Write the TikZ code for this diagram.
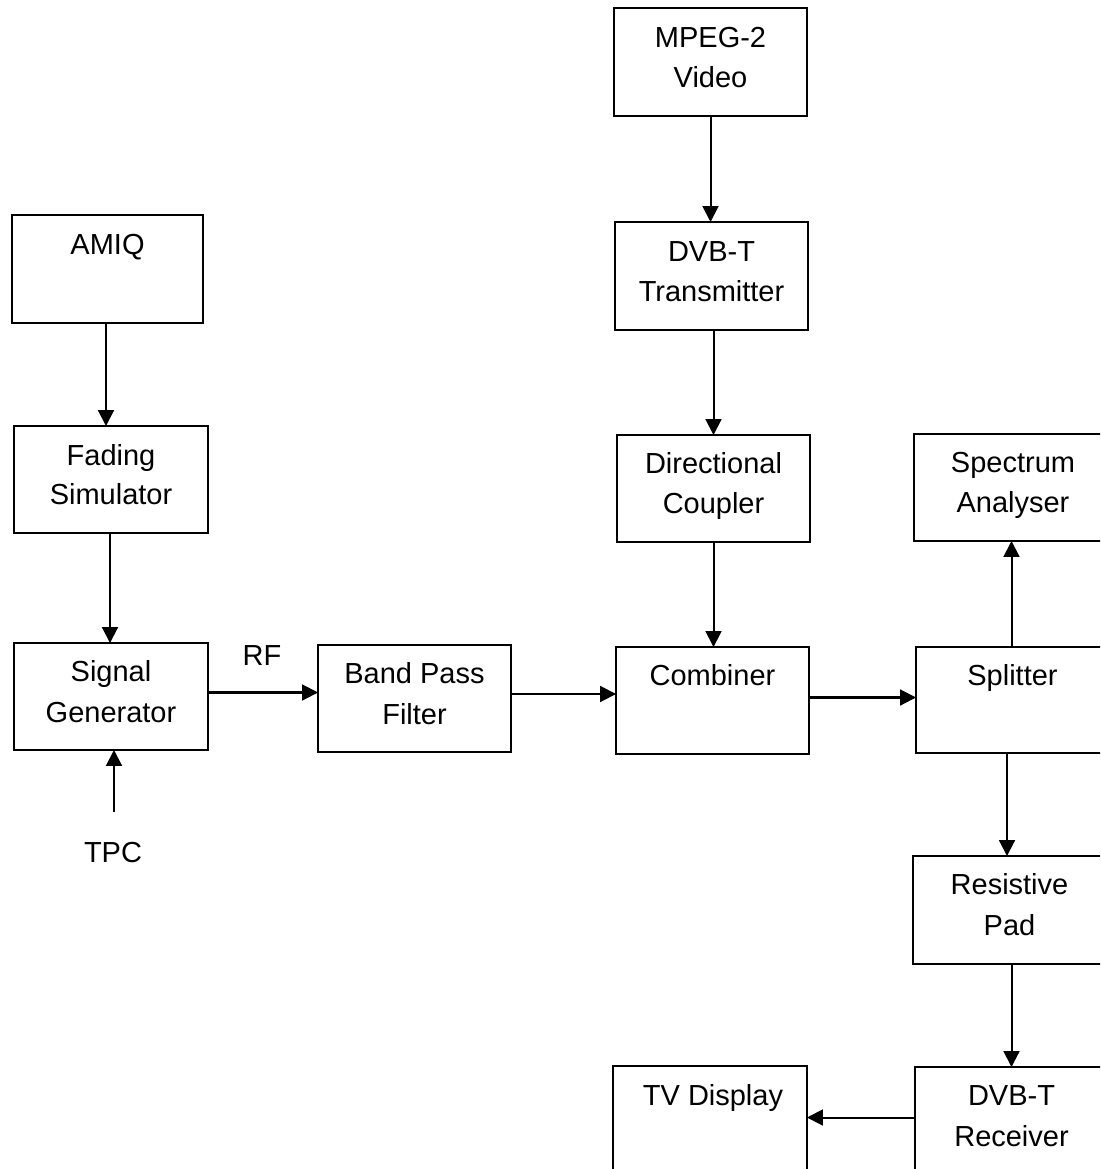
\documentclass[tikz,border=0pt]{standalone}
\usepackage{fontspec}
\setmainfont{Liberation Sans}
\usetikzlibrary{arrows.meta}
\begin{document}
\begin{tikzpicture}[x=0.02cm,y=-0.02cm,
  box/.style={draw, line width=1.15pt, rectangle, inner sep=0pt, outer sep=0pt},
  lbl/.style={anchor=base, inner sep=0pt, font=\fontsize{16.5}{20}\selectfont},
  conn/.style={line width=1.15pt, -{Triangle[length=9pt,width=9pt]}}]
\useasboundingbox (0,0) rectangle (1100,1169);
\clip (0,0) rectangle (1100,1169);

% boxes
\node[box, minimum width=3.86cm, minimum height=2.16cm] (mpeg) at (710.5,62) {};
\node[box, minimum width=3.86cm, minimum height=2.16cm] (dvbt) at (711.5,276) {};
\node[box, minimum width=3.82cm, minimum height=2.16cm] (amiq) at (107.5,269) {};
\node[box, minimum width=3.88cm, minimum height=2.14cm] (fading) at (111,479.5) {};
\node[box, minimum width=3.86cm, minimum height=2.14cm] (dircoup) at (713.5,488.5) {};
\node[box, minimum width=3.86cm, minimum height=2.14cm] (spec) at (1010.5,487.5) {};
\node[box, minimum width=3.88cm, minimum height=2.14cm] (siggen) at (111,696.5) {};
\node[box, minimum width=3.86cm, minimum height=2.14cm] (bpf) at (414.5,698.5) {};
\node[box, minimum width=3.86cm, minimum height=2.14cm] (comb) at (712.5,700.5) {};
\node[box, minimum width=3.86cm, minimum height=2.12cm] (split) at (1012.5,700) {};
\node[box, minimum width=3.86cm, minimum height=2.16cm] (resist) at (1009.5,910) {};
\node[box, minimum width=3.88cm, minimum height=2.14cm] (tv) at (710,1119.5) {};
\node[box, minimum width=3.86cm, minimum height=2.14cm] (recv) at (1011.5,1120.5) {};

% labels
\node[lbl] (mpegA) at ([yshift=-0.78cm]mpeg.north) {MPEG-2};
\node[lbl] (mpegB) at ([yshift=-1.60cm]mpeg.north) {Video};
\node[lbl] (dvbtA) at ([yshift=-0.78cm]dvbt.north) {DVB-T};
\node[lbl] (dvbtB) at ([yshift=-1.60cm]dvbt.north) {Transmitter};
\node[lbl] (amiqA) at ([yshift=-0.78cm]amiq.north) {AMIQ};
\node[lbl] (fadA) at ([yshift=-0.78cm]fading.north) {Fading};
\node[lbl] (fadB) at ([yshift=-1.58cm]fading.north) {Simulator};
\node[lbl] (dcA) at ([yshift=-0.76cm]dircoup.north) {Directional};
\node[lbl] (dcB) at ([yshift=-1.58cm]dircoup.north) {Coupler};
\node[lbl] (specA) at ([xshift=0.05cm,yshift=-0.76cm]spec.north) {Spectrum};
\node[lbl] (specB) at ([xshift=0.05cm,yshift=-1.58cm]spec.north) {Analyser};
\node[lbl] (sgA) at ([yshift=-0.76cm]siggen.north) {Signal};
\node[lbl] (sgB) at ([yshift=-1.58cm]siggen.north) {Generator};
\node[lbl] (bpfA) at ([yshift=-0.76cm]bpf.north) {Band Pass};
\node[lbl] (bpfB) at ([yshift=-1.58cm]bpf.north) {Filter};
\node[lbl] (combA) at ([yshift=-0.76cm]comb.north) {Combiner};
\node[lbl] (splitA) at ([yshift=-0.76cm]split.north) {Splitter};
\node[lbl] (resA) at ([yshift=-0.76cm]resist.north) {Resistive};
\node[lbl] (resB) at ([yshift=-1.58cm]resist.north) {Pad};
\node[lbl] (tvA) at ([xshift=0.06cm,yshift=-0.78cm]tv.north) {TV Display};
\node[lbl] (recvA) at ([yshift=-0.76cm]recv.north) {DVB-T};
\node[lbl] (recvB) at ([yshift=-1.58cm]recv.north) {Receiver};
\node[lbl] (rf) at (262,665) {RF};
\node[lbl] (tpc) at (113,862) {TPC};
\coordinate (tpcend) at (114,812);

% connectors
\draw[conn] (mpeg.south) -- (mpeg.south |- dvbt.north);
\draw[conn] (dircoup.north |- dvbt.south) -- (dircoup.north);
\draw[conn] (dircoup.south) -- (dircoup.south |- comb.north);
\draw[conn] ([xshift=-0.03cm]amiq.south) -- ([xshift=-0.03cm]amiq.south |- fading.north);
\draw[conn] ([xshift=-0.02cm]fading.south) -- ([xshift=-0.02cm]fading.south |- siggen.north);
\draw[conn] ([yshift=0.08cm]siggen.east) -- ([yshift=0.08cm]siggen.east -| bpf.west);
\draw[conn] ([yshift=0.09cm]bpf.east) -- ([yshift=0.09cm]bpf.east -| comb.west);
\draw[conn] ([yshift=0.06cm]comb.east) -- ([yshift=0.06cm]comb.east -| split.west);
\draw[conn] ([xshift=-0.02cm]split.north) -- ([xshift=-0.02cm]split.north |- spec.south);
\draw[conn] ([xshift=-0.11cm]split.south) -- ([xshift=-0.11cm]split.south |- resist.north);
\draw[conn] (recv.north |- resist.south) -- (recv.north);
\draw[conn] ([yshift=0.06cm]recv.west) -- ([yshift=0.06cm]recv.west -| tv.east);
\draw[conn] (tpcend) -- (tpcend |- siggen.south);
\end{tikzpicture}
\end{document}
